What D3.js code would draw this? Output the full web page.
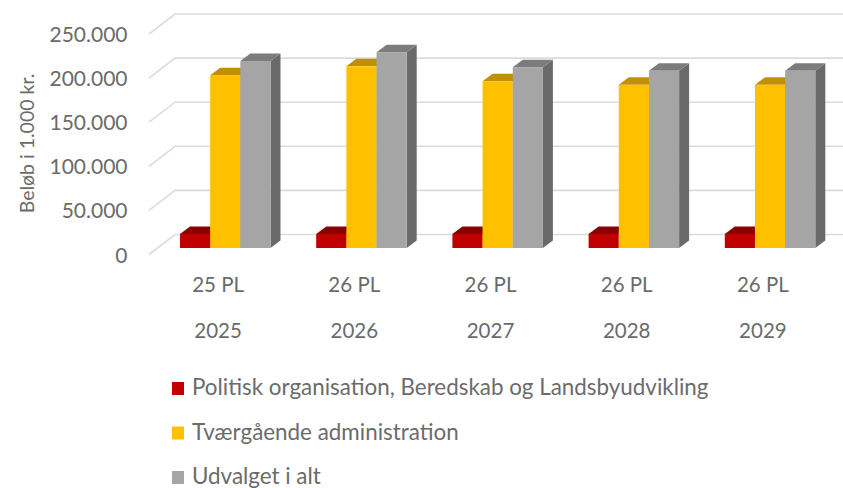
<!DOCTYPE html>
<html>
<head>
<meta charset="utf-8">
<script src="https://d3js.org/d3.v7.min.js"></script>
<style>
body { margin: 0; background: #fff; }
svg { display: block; }
text { font-family: Lato, sans-serif; fill: #6b6b6b; }
</style>
</head>
<body>
<div id="chart"></div>
<script>
// chart data
var years = ["2025", "2026", "2027", "2028", "2029"];
var plLabels = ["25 PL", "26 PL", "26 PL", "26 PL", "26 PL"];
var politisk = [16000, 16000, 16000, 16000, 16000];
var tvaergaaende = [196000, 206000, 189000, 185000, 185000];
var iAlt = [212000, 222000, 205000, 201000, 201000];
var seriesNames = ["Politisk organisation, Beredskab og Landsbyudvikling", "Tværgående administration", "Udvalget i alt"];
var yTicks = [0, 50000, 100000, 150000, 200000, 250000];

var colors = [
    { front: "#c00000", top: "#8b0000", side: "#8f0000" },
    { front: "#ffc000", top: "#bf9000", side: "#bf9000" },
    { front: "#a5a5a5", top: "#7c7c7c", side: "#6a6a6a" }
];

var width = 843, height = 488;

var svg = d3.select("#chart")
    .append("svg")
    .attr("width", width)
    .attr("height", height);

// scales
var y = d3.scaleLinear().domain([0, 250000]).range([248, 27.5]);
var x = d3.scaleBand().domain(years).range([157, 838]).paddingInner(0).paddingOuter(0);
var seriesX = d3.scaleBand().domain(d3.range(3)).range([0, 90.5]);

// 3D offsets
var wallY = -13.5;
var depthX = 10, depthY = -7.5;

// gridlines: side wall + back wall
var grid = svg.append("g");
yTicks.forEach(function(t) {
    var yBack = y(t) + wallY;
    grid.append("path")
        .attr("d", "M149," + (yBack + 20) + "L175," + yBack + "L843," + yBack)
        .attr("fill", "none")
        .attr("stroke", "#dcdcdc")
        .attr("stroke-width", 1.6);
});

// y axis labels
svg.append("g").selectAll("text")
    .data(yTicks)
    .join("text")
    .attr("x", 127.5)
    .attr("y", function(d) { return y(d) + wallY + 28; })
    .attr("text-anchor", "end")
    .attr("font-size", 21)
    .text(function(d) { return d3.format(",")(d).replace(/,/g, "."); });

svg.append("text")
    .attr("transform", "translate(34,143.5) rotate(-90)")
    .attr("text-anchor", "middle")
    .attr("font-size", 19.5)
    .text("Beløb i 1.000 kr.");

// bars
var allSeries = [politisk, tvaergaaende, iAlt];
years.forEach(function(year, i) {
    var g = svg.append("g");
    var x0 = x(year) + 23;
    allSeries.forEach(function(values, s) {
        var left = x0 + seriesX(s);
        var right = left + seriesX.bandwidth();
        var top = y(values[i]);
        var base = y(0);
        // side face
        g.append("path")
            .attr("d", "M" + right + "," + top + "L" + (right + depthX) + "," + (top + depthY) +
                "L" + (right + depthX) + "," + (base + depthY) + "L" + right + "," + base + "Z")
            .attr("fill", colors[s].side);
        // top face
        g.append("path")
            .attr("d", "M" + left + "," + top + "L" + (left + depthX) + "," + (top + depthY) +
                "L" + (right + depthX) + "," + (top + depthY) + "L" + right + "," + top + "Z")
            .attr("fill", colors[s].top);
        // front face
        g.append("rect")
            .attr("x", left)
            .attr("y", top)
            .attr("width", seriesX.bandwidth())
            .attr("height", base - top)
            .attr("fill", colors[s].front);
    });
});

// category labels, two levels
svg.append("g").selectAll("text")
    .data(plLabels)
    .join("text")
    .attr("x", function(d, i) { return x(years[i]) + x.bandwidth() / 2 - 7; })
    .attr("y", 292)
    .attr("text-anchor", "middle")
    .attr("font-size", 20.5)
    .text(function(d) { return d; });

svg.append("g").selectAll("text")
    .data(years)
    .join("text")
    .attr("x", function(d) { return x(d) + x.bandwidth() / 2 - 7; })
    .attr("y", 338)
    .attr("text-anchor", "middle")
    .attr("font-size", 20.5)
    .text(function(d) { return d; });

// legend
var legendY = d3.scalePoint().domain(seriesNames).range([395, 484]);
var legend = svg.append("g").selectAll("g")
    .data(seriesNames)
    .join("g");

legend.append("rect")
    .attr("x", 172)
    .attr("y", function(d) { return legendY(d) - 13; })
    .attr("width", 12)
    .attr("height", 13)
    .attr("fill", function(d, i) { return colors[i].front; });

legend.append("text")
    .attr("x", 192)
    .attr("y", function(d) { return legendY(d); })
    .attr("font-size", 22.4)
    .text(function(d) { return d; });
</script>
</body>
</html>
